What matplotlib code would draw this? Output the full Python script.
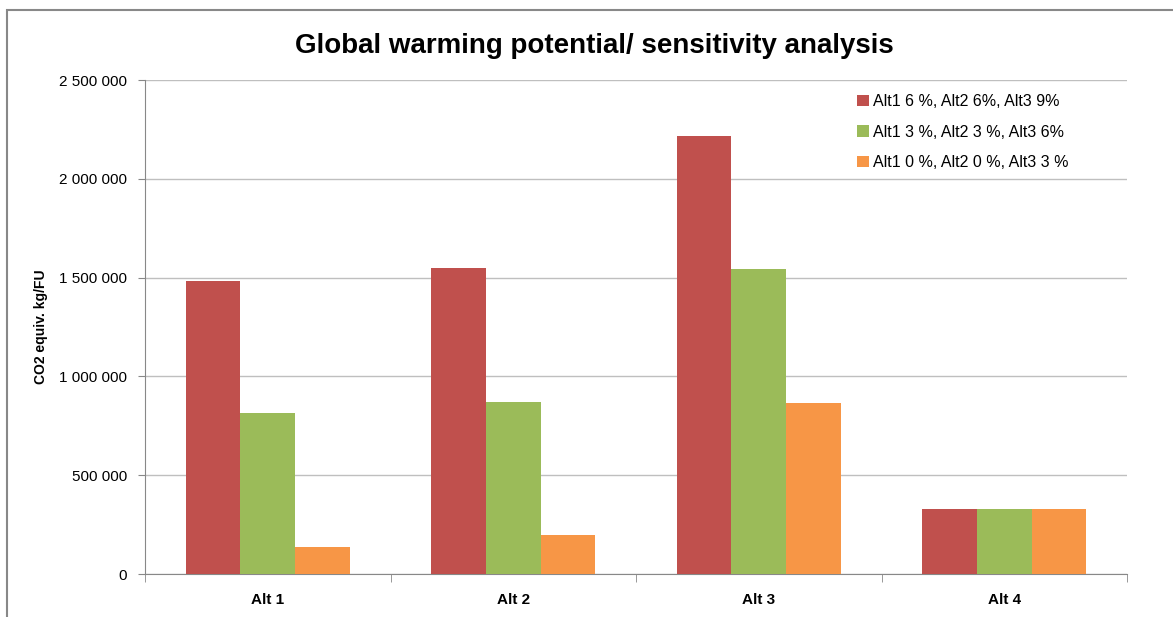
import matplotlib
matplotlib.use("Agg")
import matplotlib.pyplot as plt
import numpy as np
from matplotlib.patches import Rectangle

plt.rcParams['font.family'] = ['Liberation Sans', 'DejaVu Sans']

categories = ["Alt 1", "Alt 2", "Alt 3", "Alt 4"]
series_names = ["Alt1 6 %, Alt2 6%, Alt3 9%",
                "Alt1 3 %, Alt2 3 %, Alt3 6%",
                "Alt1 0 %, Alt2 0 %, Alt3 3 %"]
high = [1483000, 1549000, 2217000, 329000]
mid = [815000, 870000, 1543000, 329000]
low = [137000, 197000, 865000, 329000]
colors = ["#C0504D", "#9BBB59", "#F79646"]

fig = plt.figure(figsize=(11.73, 6.17), dpi=100)
ax = fig.add_axes([145/1173, 1-574/617, 982/1173, 494/617])

x = np.arange(len(categories))
w = 1 / 4.5
for i, (vals, name, c) in enumerate(zip([high, mid, low], series_names, colors)):
    ax.bar(x + (i - 1) * w, vals, width=w, color=c, label=name, zorder=3)

ax.set_xlim(-0.5, len(categories) - 0.5)
ax.set_ylim(0, 2500000)
ax.set_yticks(np.arange(0, 2500001, 500000))
ax.set_yticklabels([f"{v:,}".replace(",", " ") for v in range(0, 2500001, 500000)], fontsize=11)
ax.set_xticks(x)
ax.set_xticklabels(categories, fontsize=11, fontweight="bold")
ax.set_xticks(np.arange(-0.5, len(categories)), minor=True)
ax.tick_params(axis="x", which="major", length=0, pad=14)
ax.tick_params(axis="x", which="minor", length=6, color="#888888", direction="out")
ax.tick_params(axis="y", length=5, color="#888888", pad=8)
ax.grid(axis="y", color="#BFBFBF", linewidth=1, zorder=0)
for s in ["top", "right"]:
    ax.spines[s].set_visible(False)
for s in ["left", "bottom"]:
    ax.spines[s].set_color("#888888")

ax.set_ylabel("CO2 equiv. kg/FU", fontsize=10, fontweight="bold", labelpad=8)
fig.text(594/1173, 1-46/617, "Global warming potential/ sensitivity analysis",
         ha="center", va="center", fontsize=20, fontweight="bold")

fig.legend(loc="upper left", bbox_to_anchor=(851/1173, 1-88/617),
           frameon=False, fontsize=11.5, handlelength=0.7, handleheight=0.7,
           handletextpad=0.3, labelspacing=0.95, borderaxespad=0.0)

fig.patches.append(Rectangle((7/1173, -0.1), 1.2, 1 - 10/617 + 0.1, transform=fig.transFigure,
                             fill=False, edgecolor="#888888", linewidth=1.5))

fig.savefig("out.png", dpi=100)
